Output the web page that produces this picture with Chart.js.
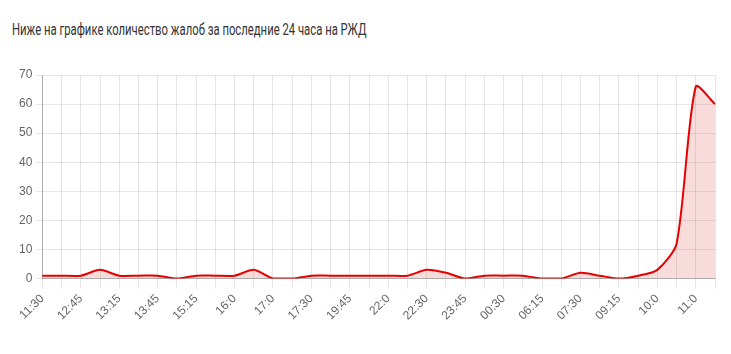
<!DOCTYPE html>
<html>
<head>
<meta charset="utf-8">
<script src="https://cdn.jsdelivr.net/npm/chart.js@4/dist/chart.umd.min.js"></script>
<style>
  html, body { margin: 0; padding: 0; background: #fff; }
  body { width: 731px; height: 354px; position: relative; overflow: hidden; }
  .title {
    position: absolute; left: 12px; top: 19px;
    font-family: 'Roboto', sans-serif;
    font-size: 17px; color: #333; white-space: nowrap;
    transform: scaleX(0.665); transform-origin: left top;
  }
  .wrap { position: absolute; left: 0; top: 62px; width: 731px; height: 264px; }
</style>
</head>
<body>
<div class="title">Ниже на графике количество жалоб за последние 24 часа на РЖД</div>
<div class="wrap"><canvas id="chart" width="731" height="264"></canvas></div>
<script>
// ─── Data ───
const labels = [
  '11:30', '12:0', '12:45', '13:0', '13:15', '13:30', '13:45', '14:30', '15:15', '15:45',
  '16:0', '16:30', '17:0', '17:15', '17:30', '18:0', '19:45', '21:0', '22:0', '22:15',
  '22:30', '22:45', '23:45', '00:0', '00:30', '05:30', '06:15', '07:0', '07:30', '08:45',
  '09:15', '09:45', '10:0', '10:30', '11:0', '11:15'
];
const complaints = [
  1, 1, 1, 3, 1, 1, 1, 0, 1, 1,
  1, 3, 0, 0, 1, 1, 1, 1, 1, 1,
  3, 2, 0, 1, 1, 1, 0, 0, 2, 1,
  0, 1, 3, 12, 66, 60
];
const yTicks = { min: 0, max: 70, step: 10 };

const font = { family: "'Helvetica Neue', Helvetica, Arial, sans-serif", size: 12 };

new Chart(document.getElementById('chart'), {
  type: 'line',
  data: {
    labels,
    datasets: [{
      data: complaints,
      borderColor: '#e60000',
      backgroundColor: 'rgba(220,80,80,0.2)',
      borderWidth: 2,
      fill: 'origin',
      tension: 0.25,
      pointRadius: 0
    }]
  },
  options: {
    responsive: false,
    animation: false,
    layout: { padding: { left: 15, right: 16, top: 13, bottom: 0 } },
    plugins: { legend: { display: false }, tooltip: { enabled: false } },
    scales: {
      x: {
        grid: { color: 'rgba(0,0,0,0.1)', tickLength: 10 },
        border: { color: 'rgba(0,0,0,0.25)' },
        ticks: {
          color: '#666', font, autoSkip: false, maxRotation: 45, minRotation: 45,
          callback: (v, i) => i % 2 === 0 ? labels[i] : ''
        }
      },
      y: {
        min: yTicks.min, max: yTicks.max,
        grid: { color: 'rgba(0,0,0,0.1)', tickLength: 6 },
        border: { color: 'rgba(0,0,0,0.25)' },
        ticks: { color: '#666', font, stepSize: yTicks.step, padding: 4 }
      }
    }
  }
});
</script>
</body>
</html>
